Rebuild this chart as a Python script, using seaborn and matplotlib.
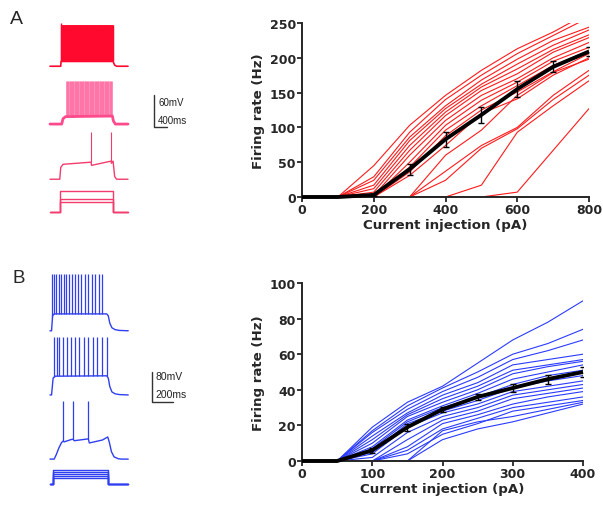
import numpy as np
import pandas as pd
import matplotlib
matplotlib.use("Agg")
import matplotlib.pyplot as plt
import seaborn as sns

sns.set_style("ticks")
plt.rcParams['font.family'] = ['DejaVu Sans']

# ---------------- F-I curves, panel A (red cells) ----------------
a_current = [0, 100, 200, 300, 400, 500, 600, 700, 800]
a_cells = [
    [0, 0, 45, 103, 146, 182, 213, 237, 265],
    [0, 0, 29, 93, 140, 175, 206, 232, 258],
    [0, 0, 24, 86, 131, 168, 198, 225, 244],
    [0, 0, 17, 81, 127, 162, 191, 218, 240],
    [0, 0, 12, 74, 122, 158, 184, 212, 233],
    [0, 0, 7, 67, 117, 153, 177, 208, 229],
    [0, 0, 2, 60, 110, 146, 170, 200, 222],
    [0, 0, 0, 50, 103, 139, 165, 195, 215],
    [0, 0, 0, 43, 96, 131, 160, 189, 210],
    [0, 0, 0, 36, 88, 125, 151, 180, 206],
    [0, 0, 0, 31, 74, 120, 141, 175, 200],
    [0, 0, 0, 0, 60, 96, 146, 179, 198],
    [0, 0, 0, 0, 37, 74, 100, 146, 182],
    [0, 0, 0, 0, 24, 70, 98, 140, 175],
    [0, 0, 0, 0, 0, 17, 93, 131, 167],
    [0, 0, 0, 0, 0, 0, 7, 67, 127],
]
a_mean = [0, 0, 3, 40, 83, 118, 155, 187, 209]
a_err = [0, 0, 2, 8, 11, 12, 12, 8, 6]

# ---------------- F-I curves, panel B (blue cells) ----------------
b_current = [0, 50, 100, 150, 200, 250, 300, 350, 400]
b_cells = [
    [0, 0, 19, 33, 42, 55, 68, 78, 90],
    [0, 0, 17, 31, 41, 50, 60, 66, 74],
    [0, 0, 16, 29, 39, 47, 57, 62, 68],
    [0, 0, 14, 27, 37, 44, 54, 57, 60],
    [0, 0, 12, 26, 35, 42, 51, 54, 57],
    [0, 0, 10, 25, 33, 40, 49, 53, 56],
    [0, 0, 8, 23, 31, 38, 46, 50, 54],
    [0, 0, 7, 22, 30, 36, 43, 48, 51],
    [0, 0, 5, 21, 28, 34, 41, 45, 48],
    [0, 0, 4, 19, 27, 32, 39, 42, 45],
    [0, 0, 2, 16, 25, 30, 37, 40, 43],
    [0, 0, 0, 12, 23, 28, 35, 38, 41],
    [0, 0, 0, 8, 21, 26, 32, 36, 39],
    [0, 0, 0, 6, 18, 24, 30, 33, 36],
    [0, 0, 0, 4, 15, 21, 28, 31, 34],
    [0, 0, 0, 0, 17, 22, 25, 29, 33],
    [0, 0, 0, 0, 12, 18, 22, 27, 32],
]
b_mean = [0, 0, 6, 19, 29, 36, 41, 46, 50]
b_err = [0, 0, 1.5, 2, 1.5, 1.5, 2, 2.5, 3]

# ---------------- example traces (ms, mV above baseline) ----------------
# panel A
a1_t = [0, 330, 340, 1940, 1990, 2050, 2400]
a1_v = [0, 0, 9, 9, 2, 0, 0]
a1_isi, a1_first, a1_last, a1_peak = 8, 350, 1935, 77
a2_t = [0, 360, 400, 480, 1920, 1950, 2010, 2400]
a2_v = [0, 0, 10, 14, 15, 6, 0, 0]
a2_isi, a2_first, a2_last, a2_peak = 11, 490, 1915, 80
a3_t = [0, 300, 330, 400, 1262, 1280, 1877, 1890, 1940, 1990, 2050, 2400]
a3_v = [0, 0, 22, 28, 32, 26, 34, 30, 34, 5, 0, 0]
a3_spikes, a3_peak = [1262, 1877], 88
a_steps = [39, 24, 19]
a_step_on, a_step_off, a_end = 300, 1940, 2400

# panel B
b1_t = [0, 15, 25, 40, 540, 555, 570, 590, 620, 660, 745]
b1_v = [0, 0, 40, 45, 45, 40, 20, 8, 3, 1, 0]
b1_spikes = [24, 43, 62, 84, 107, 130, 154, 181, 210, 238, 267, 297, 329,
             362, 397, 433, 467, 500]
b1_peak = 152
b2_t = [0, 15, 30, 50, 540, 555, 570, 590, 620, 660, 745]
b2_v = [0, 0, 45, 50, 51, 45, 22, 8, 3, 1, 0]
b2_spikes = [41, 64, 89, 121, 159, 197, 238, 279, 324, 365, 406, 450, 495, 540]
b2_peak = 155
b3_t = [0, 40, 60, 85, 110, 125, 135, 200, 220, 230, 340, 365, 375, 500,
        550, 565, 585, 610, 650, 680, 745]
b3_v = [0, 0, 12, 30, 44, 48, 46, 52, 53, 49, 53, 54, 43, 51,
        59, 45, 20, 6, 1, 0, 0]
b3_spikes, b3_peak = [125, 220, 365], 155
b_steps = [39, 33.6, 28.3, 23, 17.6]
b_step_on, b_step_off, b_end = 25, 552, 745

RED_FI = '#ff1a1a'
BLUE_FI = '#2a3bff'
BLUE_TR = '#2f3ff0'

W, H = 603, 506
fig = plt.figure(figsize=(W / 100, H / 100), dpi=100)


def px_axes(x0, y0, x1, y1):
    return fig.add_axes([x0 / W, 1 - y1 / H, (x1 - x0) / W, (y1 - y0) / H])


def long_df(current, cells):
    rows = []
    for i, c in enumerate(cells):
        for x, y in zip(current, c):
            rows.append({'cell': i, 'current': x, 'rate': y})
    return pd.DataFrame(rows)


def fi_panel(ax, current, cells, mean, err, color, xticks, yticks):
    df = long_df(current, cells)
    sns.lineplot(data=df, x='current', y='rate', units='cell', estimator=None,
                 color=color, lw=0.8, ax=ax, legend=False)
    ax.plot(current, mean, color='k', lw=2.8, zorder=5, clip_on=False,
            solid_capstyle='butt')
    idx = [i for i, e in enumerate(err) if e > 0]
    ax.errorbar([current[i] for i in idx], [mean[i] for i in idx],
                yerr=[err[i] for i in idx], fmt='none', ecolor='k',
                elinewidth=1.0, capsize=2.5, capthick=1.0, zorder=6)
    ax.set_xlim(xticks[0], xticks[-1])
    ax.set_ylim(yticks[0], yticks[-1])
    ax.set_xticks(xticks)
    ax.set_yticks(yticks)
    ax.set_xlabel('Current injection (pA)', fontsize=9.6, fontweight='bold',
                  labelpad=1)
    ax.set_ylabel('Firing rate (Hz)', fontsize=9.6, fontweight='bold',
                  labelpad=3)
    for s in ['top', 'right']:
        ax.spines[s].set_visible(False)
    for s in ['left', 'bottom']:
        ax.spines[s].set_linewidth(1.4)
    ax.tick_params(width=1.3, length=3.5, pad=1, labelsize=9)
    for lab in ax.get_xticklabels() + ax.get_yticklabels():
        lab.set_fontweight('bold')


axA = px_axes(302, 24, 589, 198)
fi_panel(axA, a_current, a_cells, a_mean, a_err, RED_FI,
         [0, 200, 400, 600, 800], [0, 50, 100, 150, 200, 250])
axB = px_axes(302, 284, 583, 462)
fi_panel(axB, b_current, b_cells, b_mean, b_err, BLUE_FI,
         [0, 100, 200, 300, 400], [0, 20, 40, 60, 80, 100])


def draw_trace(ax, t, v, spikes, peak, off, color, lw=0.9, spike_lw=0.8,
               alpha=1.0):
    t = np.asarray(t, float)
    v = np.asarray(v, float) + off
    base = np.interp(spikes, t, v)
    ax.vlines(spikes, base, peak + off, color=color, lw=spike_lw, alpha=alpha)
    ax.plot(t, v, color=color, lw=lw)


def draw_steps(ax, levels, on, off_t, end, off, color, lw=1.0):
    for lv in levels:
        ax.plot([0, on, on, off_t, off_t, end],
                [off, off, off + lv, off + lv, off, off], color=color, lw=lw)


# traces A: 0.0325 px per ms, 0.533 px per mV
trA = px_axes(40, 15, 180, 225)
trA.set_xlim(-308, 4000)
trA.set_ylim(0, 394)
trA.axis('off')
a1_spikes = np.arange(a1_first, a1_last, a1_isi)
draw_trace(trA, a1_t, a1_v, a1_spikes, a1_peak, 296, '#ff0a2e', lw=1.2,
           spike_lw=0.9)
trA.vlines([a1_first], [296 + 9], [296 + 82], color='#ff0a2e', lw=1.0)
a2_spikes = np.arange(a2_first, a2_last, a2_isi)
draw_trace(trA, a2_t, a2_v, a2_spikes, a2_peak, 187.5, '#ff4b8c', lw=2.0,
           spike_lw=0.6, alpha=0.45)
draw_trace(trA, a3_t, a3_v, a3_spikes, a3_peak, 84, '#f23c6e', lw=1.0)
draw_steps(trA, a_steps, a_step_on, a_step_off, a_end, 22.5, '#f23c6e')
# scale bar 60 mV / 400 ms
trA.plot([3200, 3200, 3600], [242, 182, 182], color='#333333', lw=1.0)
trA.text(3330, 229, '60mV', fontsize=7, family='Liberation Sans',
         va='center', ha='left', color='#222222')
trA.text(3330, 195, '400ms', fontsize=7, family='Liberation Sans',
         va='center', ha='left', color='#222222')

# traces B: 0.105 px per ms, 0.375 px per mV
trB = px_axes(40, 265, 180, 495)
trB.set_xlim(-95, 1238)
trB.set_ylim(0, 613)
trB.axis('off')
draw_trace(trB, b1_t, b1_v, b1_spikes, b1_peak, 435, BLUE_TR, lw=1.0,
           spike_lw=0.9)
draw_trace(trB, b2_t, b2_v, b2_spikes, b2_peak, 264, BLUE_TR, lw=1.0,
           spike_lw=0.9)
draw_trace(trB, b3_t, b3_v, b3_spikes, b3_peak, 93, BLUE_TR, lw=1.0,
           spike_lw=0.9)
draw_steps(trB, b_steps, b_step_on, b_step_off, b_end, 26, BLUE_TR)
# scale bar 80 mV / 200 ms
trB.plot([971, 971, 1171], [325, 245, 245], color='#333333', lw=1.0)
trB.text(1000, 315, '80mV', fontsize=7.5, family='Liberation Sans',
         va='center', ha='left', color='#222222')
trB.text(1000, 267, '200ms', fontsize=7.5, family='Liberation Sans',
         va='center', ha='left', color='#222222')

fig.text(10 / W, 1 - 24 / H, 'A', fontsize=14, family='Liberation Sans',
         va='baseline', ha='left')
fig.text(12 / W, 1 - 283 / H, 'B', fontsize=13.5, family='Liberation Sans',
         va='baseline', ha='left')

fig.savefig('out.png', dpi=100)
